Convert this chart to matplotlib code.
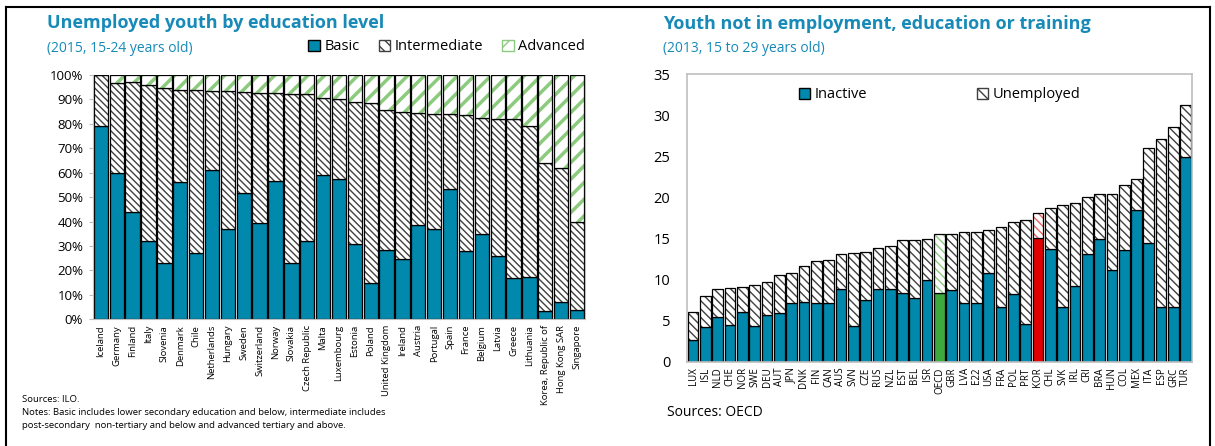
import matplotlib
matplotlib.use("Agg")
import matplotlib.pyplot as plt
from matplotlib.lines import Line2D
from matplotlib.patches import Patch
import numpy as np

plt.rcParams['font.family'] = ['Open Sans', 'DejaVu Sans']
plt.rcParams['hatch.linewidth'] = 1.0

# left panel: unemployed youth by education level (2015, % of total)
countries = ['Iceland', 'Germany', 'Finland', 'Italy', 'Slovenia', 'Denmark', 'Chile',
             'Netherlands', 'Hungary', 'Sweden', 'Switzerland', 'Norway', 'Slovakia',
             'Czech Republic', 'Malta', 'Luxembourg', 'Estonia', 'Poland', 'United Kingdom',
             'Ireland', 'Austria', 'Portugal', 'Spain', 'France', 'Belgium', 'Latvia',
             'Greece', 'Lithuania', 'Korea, Republic of', 'Hong Kong SAR', 'Singapore']
basic = [79, 60, 44, 32, 23, 56, 27, 61, 37, 51.5, 39.5, 56.5, 23, 32, 59, 57.5, 31, 15,
         28.5, 24.5, 38.5, 37, 53.5, 28, 35, 26, 17, 17.5, 3.5, 7, 4]
intermediate = [21, 36.5, 53, 64, 71.5, 38, 67, 32.5, 56.5, 41.5, 53, 36, 69, 60, 31.5,
                32.5, 58, 73.5, 57, 60.5, 46, 47, 30.5, 55.5, 47.5, 56, 65, 61.5, 60.5, 55, 36]
advanced = [0, 3.5, 3, 4, 5.5, 6, 6, 6.5, 6.5, 7, 7.5, 7.5, 8, 8, 9.5, 10, 11, 11.5, 14.5,
            15, 15.5, 16, 16, 16.5, 17.5, 18, 18, 21, 36, 38, 60]

# right panel: youth NEET (2013, % of 15-29 year olds)
codes = ['LUX', 'ISL', 'NLD', 'CHE', 'NOR', 'SWE', 'DEU', 'AUT', 'JPN', 'DNK', 'FIN', 'CAN',
         'AUS', 'SVN', 'CZE', 'RUS', 'NZL', 'EST', 'BEL', 'ISR', 'OECD', 'GBR', 'LVA', 'E22',
         'USA', 'FRA', 'POL', 'PRT', 'KOR', 'CHL', 'SVK', 'IRL', 'CRI', 'BRA', 'HUN', 'COL',
         'MEX', 'ITA', 'ESP', 'GRC', 'TUR']
inactive = [2.6, 4.2, 5.5, 4.5, 6.0, 4.4, 5.7, 5.9, 7.1, 7.3, 7.1, 7.2, 8.9, 4.4, 7.5, 8.9,
            8.9, 8.4, 7.8, 10.0, 8.4, 8.7, 7.1, 7.1, 10.8, 6.7, 8.2, 4.6, 15.1, 13.75, 6.6,
            9.2, 13.1, 14.9, 11.2, 13.6, 18.4, 14.4, 6.7, 6.7, 24.9]
unemployed = [3.4, 3.8, 3.4, 4.5, 3.1, 4.9, 3.95, 4.7, 3.65, 4.4, 5.2, 5.2, 4.15, 8.8, 5.8,
              4.9, 5.2, 6.35, 7.05, 4.95, 7.1, 6.85, 8.65, 8.7, 5.2, 9.7, 8.75, 12.7, 2.95,
              4.95, 12.5, 10.05, 7.0, 5.45, 9.25, 7.9, 3.85, 11.65, 20.45, 21.8, 6.3]

BLUE = '#0088AD'
TITLE = '#178AB8'
HATCH = '#404040'
GREEN = '#8CCB7E'
SPINE = '#bfbfbf'


def hatched(ax, x, h, bottom, width, color, hatch, hlw=1.0):
    bars = ax.bar(x, h, width, bottom=bottom, color='white', edgecolor=color,
                  hatch=hatch, linewidth=0)
    for b in bars:
        if hasattr(b, 'set_hatch_linewidth'):
            b.set_hatch_linewidth(hlw)
    ax.bar(x, h, width, bottom=bottom, fill=False, edgecolor='black', linewidth=0.9)


fig = plt.figure(figsize=(12.15, 4.46), dpi=100)

# ---------- left ----------
ax1 = fig.add_axes([0.0765, 0.284, 0.405, 0.548])
x1 = np.arange(len(countries))
b = np.array(basic)
m = np.array(intermediate)
a = np.array(advanced)
ax1.bar(x1, b, 0.9, color=BLUE, edgecolor='black', linewidth=0.9)
hatched(ax1, x1, m, b, 0.9, HATCH, '\\' * 5)
hatched(ax1, x1, a, b + m, 0.9, GREEN, '//', 2.5)
ax1.set_xlim(-0.5, len(countries) - 0.5)
ax1.set_ylim(0, 100)
ax1.set_yticks(np.arange(0, 101, 10))
ax1.set_yticklabels([f'{v}%' for v in range(0, 101, 10)], fontsize=9.5)
ax1.set_xticks(x1)
ax1.set_xticklabels(countries, rotation=90, fontsize=6.8)
ax1.tick_params(axis='x', length=0, pad=4)
ax1.tick_params(axis='y', length=3, color=SPINE, pad=4)
for s in ax1.spines.values():
    s.set_color(SPINE)
ax1.spines['top'].set_visible(False)

leg1 = [Patch(facecolor=BLUE, edgecolor='black', label='Basic'),
        Patch(facecolor='white', edgecolor=HATCH, hatch='\\\\\\', label='Intermediate'),
        Patch(facecolor='white', edgecolor=GREEN, hatch='//', label='Advanced')]
ax1.legend(handles=leg1, ncol=3, loc='center right', bbox_to_anchor=(1.0, 1.115),
           frameon=False, fontsize=10.5, handlelength=0.8, handleheight=0.8,
           handletextpad=0.3, columnspacing=1.3, borderaxespad=0, borderpad=0)

fig.text(47 / 1215, 1 - 23 / 446, 'Unemployed youth by education level', fontsize=13,
         fontweight='bold', color=TITLE, va='center')
fig.text(47 / 1215, 1 - 49 / 446, '(2015, 15-24 years old)', fontsize=10, color=TITLE,
         va='center')
fig.text(22 / 1215, 1 - 399 / 446, 'Sources: ILO.', fontsize=6.8, va='center')
fig.text(22 / 1215, 1 - 419 / 446,
         'Notes: Basic includes lower secondary education and below, intermediate includes\n'
         'post-secondary  non-tertiary and below and advanced tertiary and above.',
         fontsize=6.8, va='center', linespacing=1.5)

# ---------- right ----------
ax2 = fig.add_axes([0.5654, 0.189, 0.4156, 0.645])
x2 = np.arange(len(codes))
inact = np.array(inactive)
unemp = np.array(unemployed)
cols = [BLUE] * len(codes)
hcols = [HATCH] * len(codes)
cols[codes.index('OECD')] = '#3DAA3D'
hcols[codes.index('OECD')] = '#8CCB7E'
cols[codes.index('KOR')] = '#E00000'
hcols[codes.index('KOR')] = '#F06060'
ax2.bar(x2, inact, 0.87, color=cols, edgecolor='black', linewidth=0.9)
for i in range(len(codes)):
    hatched(ax2, x2[i], unemp[i], inact[i], 0.87, hcols[i], '\\\\\\\\')
ax2.set_xlim(-0.5, len(codes) - 0.5)
ax2.set_ylim(0, 35)
ax2.set_yticks(range(0, 36, 5))
ax2.set_yticklabels([str(v) for v in range(0, 36, 5)], fontsize=10.5)
ax2.set_xticks(x2)
ax2.set_xticklabels(codes, rotation=90, fontsize=7)
ax2.tick_params(axis='x', length=0, pad=4)
ax2.tick_params(axis='y', length=0, pad=12)
for s in ax2.spines.values():
    s.set_color(SPINE)
    s.set_linewidth(1.2)

leg2 = [Patch(facecolor=BLUE, edgecolor='black', label='Inactive'),
        Patch(facecolor='white', edgecolor=HATCH, hatch='\\\\\\', label='Unemployed')]
ax2.legend(handles=leg2, ncol=2, loc='upper center', bbox_to_anchor=(0.5, 1.0),
           frameon=False, fontsize=10.5, handlelength=0.8, handleheight=0.8,
           handletextpad=0.3, columnspacing=7.5)

fig.text(663 / 1215, 1 - 24 / 446, 'Youth not in employment, education or training',
         fontsize=13, fontweight='bold', color=TITLE, va='center')
fig.text(663 / 1215, 1 - 49 / 446, '(2013, 15 to 29 years old)', fontsize=10, color=TITLE,
         va='center')
fig.text(667 / 1215, 1 - 412 / 446, 'Sources: OECD', fontsize=10, va='center')

# outer frame
fig.add_artist(Line2D([6 / 1215, 1210 / 1215], [1 - 7 / 446, 1 - 7 / 446], color='black', lw=1.5))
fig.add_artist(Line2D([6 / 1215, 6 / 1215], [0, 1 - 7 / 446], color='black', lw=1.5))
fig.add_artist(Line2D([1210 / 1215, 1210 / 1215], [0, 1 - 7 / 446], color='black', lw=1.5))

fig.savefig('out.png', dpi=100)
